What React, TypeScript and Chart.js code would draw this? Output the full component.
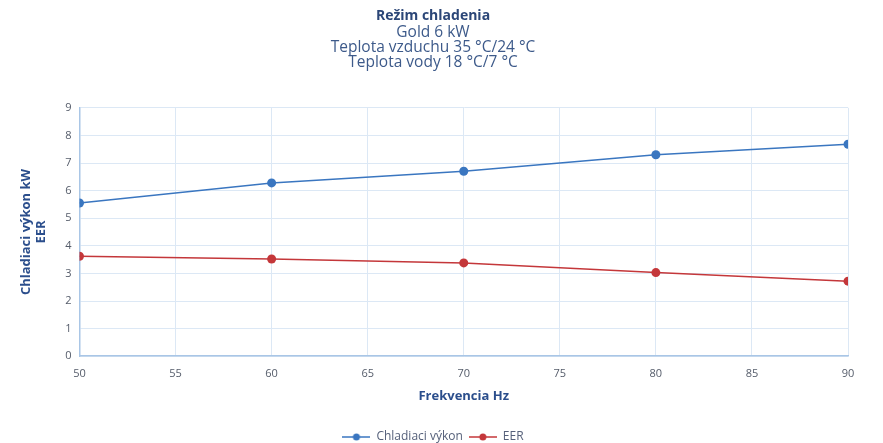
import React, { useEffect, useRef } from "react";
import { Chart, registerables } from "chart.js";

Chart.register(...registerables);

const frequencies = [50, 60, 70, 80, 90];
const coolingCapacity = [5.55, 6.28, 6.7, 7.3, 7.68];
const eer = [3.62, 3.52, 3.38, 3.03, 2.72];

const titleText = "Režim chladenia";
const subtitleLines = ["Gold 6 kW", "Teplota vzduchu 35 °C/24 °C", "Teplota vody 18 °C/7 °C"];
const xTitle = "Frekvencia Hz";
const yTitle = ["Chladiaci výkon kW", "EER"];
const seriesNames = ["Chladiaci výkon", "EER"];

const BLUE = "#3a76c0";
const RED = "#c4373a";

function legendIcon(color: string): HTMLCanvasElement {
  const c = document.createElement("canvas");
  c.width = 28;
  c.height = 10;
  const ctx = c.getContext("2d")!;
  ctx.strokeStyle = color;
  ctx.lineWidth = 1.5;
  ctx.beginPath();
  ctx.moveTo(0, 5);
  ctx.lineTo(28, 5);
  ctx.stroke();
  ctx.fillStyle = color;
  ctx.beginPath();
  ctx.arc(14, 5, 3.5, 0, Math.PI * 2);
  ctx.fill();
  return c;
}

export default function App() {
  const ref = useRef<HTMLCanvasElement>(null);
  useEffect(() => {
    if (!ref.current) return;
    const colors = [BLUE, RED];
    const chart = new Chart(ref.current, {
      type: "line",
      data: {
        datasets: [
          {
            label: seriesNames[0],
            data: frequencies.map((f, i) => ({ x: f, y: coolingCapacity[i] })),
            borderColor: BLUE,
            backgroundColor: BLUE,
            borderWidth: 1.5,
            pointRadius: 4.5,
            pointBorderWidth: 0,
          },
          {
            label: seriesNames[1],
            data: frequencies.map((f, i) => ({ x: f, y: eer[i] })),
            borderColor: RED,
            backgroundColor: RED,
            borderWidth: 1.5,
            pointRadius: 4.5,
            pointBorderWidth: 0,
          },
        ],
      },
      options: {
        animation: false,
        responsive: false,
        maintainAspectRatio: false,
        layout: { padding: { left: 18, right: 35, top: 8, bottom: -10 } },
        plugins: {
          title: {
            display: true,
            text: titleText,
            color: "#2b4677",
            font: { family: "Open Sans", size: 14, weight: "bold", lineHeight: 1.2 },
            padding: { top: 0, bottom: 0 },
          },
          subtitle: {
            display: true,
            text: subtitleLines,
            color: "#3d5a8a",
            font: { family: "Open Sans", size: 15.5, weight: "normal", lineHeight: 0.968 },
            padding: { top: 0, bottom: 38 },
          },
          legend: {
            position: "bottom",
            labels: {
              font: { family: "Open Sans", size: 12 },
              color: "#55607a",
              usePointStyle: true,
              pointStyleWidth: 28,
              padding: 6,
              generateLabels: (ch: any) =>
                ch.data.datasets.map((ds: any, i: number) => ({
                  text: ds.label,
                  fillStyle: colors[i],
                  strokeStyle: colors[i],
                  fontColor: "#55607a",
                  pointStyle: legendIcon(colors[i]),
                  datasetIndex: i,
                  hidden: false,
                  lineWidth: 0,
                })),
            },
          },
          tooltip: { enabled: false },
        },
        scales: {
          x: {
            type: "linear",
            min: 50,
            max: 90,
            ticks: {
              stepSize: 5,
              color: "#555c6a",
              font: { family: "Open Sans", size: 11 },
              padding: 2,
            },
            grid: { color: "#dce8f5", drawTicks: true, tickLength: 9, tickColor: "rgba(0,0,0,0)" },
            border: { color: "#a9c6e6", width: 1.5 },
            title: {
              display: true,
              text: xTitle,
              color: "#2b4e8c",
              font: { family: "Open Sans", size: 13, weight: "bold" },
              padding: { top: 6, bottom: 21 },
            },
          },
          y: {
            min: 0,
            max: 9,
            ticks: {
              stepSize: 1,
              color: "#555c6a",
              font: { family: "Open Sans", size: 11 },
              padding: 8,
            },
            grid: { color: "#dce8f5", drawTicks: false },
            border: { color: "#a9c6e6", width: 1.5 },
            title: {
              display: true,
              text: yTitle,
              color: "#2b4e8c",
              font: { family: "Open Sans", size: 13, weight: "bold" },
              padding: { top: 0, bottom: 8 },
            },
          },
        },
      },
    } as any);
    return () => chart.destroy();
  }, []);
  return (
    <div style={{ position: "fixed", left: 0, top: 0, width: 883, height: 443, background: "#fff" }}>
      <canvas ref={ref} width={883} height={443} style={{ width: 883, height: 443 }} />
    </div>
  );
}
